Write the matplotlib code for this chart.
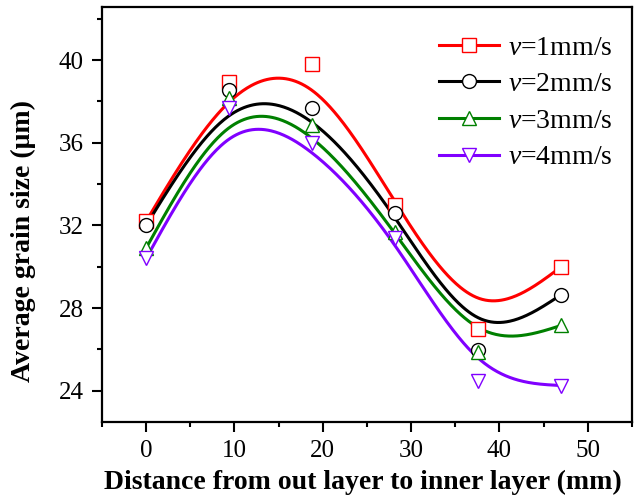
import numpy as np
import matplotlib
matplotlib.use("Agg")
import matplotlib.pyplot as plt
from matplotlib.ticker import MultipleLocator

distance = [0, 9.4, 18.8, 28.2, 37.6, 47.0]
v1 = [32.2, 38.95, 39.8, 33.0, 26.97, 30.0]
v2 = [32.0, 38.54, 37.68, 32.6, 25.98, 28.65]
v3 = [30.9, 38.15, 36.84, 31.7, 25.87, 27.16]
v4 = [30.4, 37.67, 35.98, 31.4, 24.45, 24.25]
labels = ["$\\it{v}$=1mm/s", "$\\it{v}$=2mm/s", "$\\it{v}$=3mm/s", "$\\it{v}$=4mm/s"]
colors = ["#ff0000", "#000000", "#008000", "#8000ff"]
markers = ["s", "o", "^", "v"]

plt.rcParams['font.family'] = ['Liberation Serif', 'DejaVu Serif']
plt.rcParams['mathtext.fontset'] = 'custom'
plt.rcParams['mathtext.it'] = 'Liberation Serif:italic'
plt.rcParams['mathtext.rm'] = 'Liberation Serif'


def bspline(xp, yp, n_per_seg=80):
    # uniform cubic B-spline with the data points as control points,
    # end points reflected so that the curve starts/ends at the first/last point
    P = np.column_stack([xp, yp]).astype(float)
    Q = np.vstack([2 * P[0] - P[1], P, 2 * P[-1] - P[-2]])
    u = np.linspace(0, 1, n_per_seg)
    b0 = (1 - u) ** 3 / 6
    b1 = (3 * u ** 3 - 6 * u ** 2 + 4) / 6
    b2 = (-3 * u ** 3 + 3 * u ** 2 + 3 * u + 1) / 6
    b3 = u ** 3 / 6
    segs = []
    for i in range(len(Q) - 3):
        seg = (np.outer(b0, Q[i]) + np.outer(b1, Q[i + 1])
               + np.outer(b2, Q[i + 2]) + np.outer(b3, Q[i + 3]))
        segs.append(seg)
    out = np.vstack(segs)
    return out[:, 0], out[:, 1]


fig = plt.figure(figsize=(6.39, 4.98), dpi=100)
ax = fig.add_axes([0.1596, 0.1532, 0.8294, 0.8321])

for ys, lab, c, m in zip([v1, v2, v3, v4], labels, colors, markers):
    bx, by = bspline(distance, ys)
    ax.plot(bx, by, color=c, lw=2.2, zorder=2)
    ax.plot(distance, ys, ls='none', marker=m, ms=10, mfc='white', mec=c, mew=1.0, zorder=3)
    ax.plot([], [], color=c, lw=2.2, marker=m, ms=10, mfc='white', mec=c, mew=1.0, label=lab)

ax.set_xlim(-5, 55)
ax.set_ylim(22.5, 42.55)
ax.xaxis.set_major_locator(MultipleLocator(10))
ax.xaxis.set_minor_locator(MultipleLocator(5))
ax.yaxis.set_major_locator(MultipleLocator(4))
ax.yaxis.set_minor_locator(MultipleLocator(2))
ax.tick_params(which='both', direction='out', width=1.5, top=False, right=False, labelsize=18)
ax.tick_params(which='major', length=7, pad=6)
ax.tick_params(which='minor', length=3.5)
for sp in ax.spines.values():
    sp.set_linewidth(1.6)

ax.set_xlabel("Distance from out layer to inner layer (mm)", fontsize=20, fontweight='bold')
ax.xaxis.set_label_coords(0.4925, -0.115)
ax.set_ylabel("Average grain size (\u03bcm)", fontsize=20, fontweight='bold')
ax.yaxis.set_label_coords(-0.124, 0.435)

leg = ax.legend(loc='upper right', frameon=False, fontsize=20, handlelength=2.15,
                numpoints=1, labelspacing=0.4, handletextpad=0.32,
                bbox_to_anchor=(0.994, 0.973), borderaxespad=0.2)

fig.savefig("out.png", dpi=100)
